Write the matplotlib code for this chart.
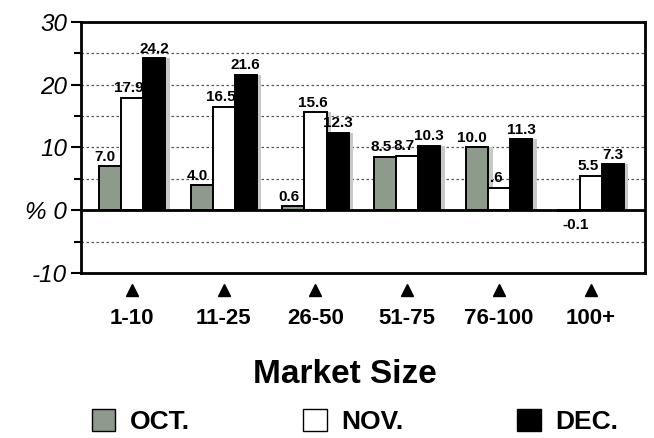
import matplotlib.pyplot as plt
import numpy as np
from matplotlib.patches import Patch
from matplotlib.transforms import blended_transform_factory

sizes = ["1-10", "11-25", "26-50", "51-75", "76-100", "100+"]
oct_vals = [7.0, 4.0, 0.6, 8.5, 10.0, -0.1]
nov_vals = [17.9, 16.5, 15.6, 8.7, 3.6, 5.5]
dec_vals = [24.2, 21.6, 12.3, 10.3, 11.3, 7.3]
oct_txt = ["7.0", "4.0", "0.6", "8.5", "10.0", "-0.1"]
nov_txt = ["17.9", "16.5", "15.6", "8.7", ".6", "5.5"]
dec_txt = ["24.2", "21.6", "12.3", "10.3", "11.3", "7.3"]

plt.rcParams['font.family'] = ['Liberation Sans', 'DejaVu Sans']

fig = plt.figure(figsize=(6.54, 4.38), dpi=100)
ax = fig.add_axes([0.124, 0.377, 0.862, 0.573])

x = np.arange(len(sizes))
w = 0.24
series = [(oct_vals, oct_txt, "#8e9a8c", "OCT."),
          (nov_vals, nov_txt, "white", "NOV."),
          (dec_vals, dec_txt, "black", "DEC.")]
label_shift = [-0.05, -0.03, 0.0]

for k, (vals, txt, col, name) in enumerate(series):
    pos = x + (k - 1) * w
    # drop shadow
    ax.bar(pos + 0.05, vals, w, color="#c8c8c8", zorder=2, linewidth=0)
    ax.bar(pos, vals, w, color=col, edgecolor="black", linewidth=1.4, zorder=3)
    for p, v, t in zip(pos, vals, txt):
        if v >= 0:
            ax.text(p + label_shift[k], v + 0.4, t, ha="center", va="bottom",
                    fontsize=11, fontweight="bold", zorder=5)
        else:
            ax.text(p + 0.08, v - 1.2, t, ha="center", va="top", fontsize=11,
                    fontweight="bold", zorder=5)

ax.axhline(0, color="black", linewidth=2, zorder=4)
for gy in [25, 20, 15, 10, 5, -5]:
    ax.axhline(gy, color="#555555", linewidth=0.9, linestyle=(0, (2, 2)), zorder=1)

ax.set_xlim(-0.555, 5.59)
ax.set_ylim(-10, 30)
ax.set_yticks([30, 20, 10, 0, -10])
ax.set_yticklabels(["30", "20", "10", "% 0", "-10"], fontsize=17.5, style="italic")
ax.set_yticks([25, 15, 5, -5], minor=True)
ax.tick_params(axis="y", which="both", direction="out", length=7, width=1.5, pad=3)
ax.tick_params(axis="y", which="minor", length=5)

ax.set_xticks(x)
ax.set_xticklabels(sizes, fontsize=16, fontweight="bold")
ax.tick_params(axis="x", length=0, pad=25)

trans = blended_transform_factory(ax.transData, ax.transAxes)
ax.plot(x, [-0.07] * len(x), transform=trans, marker="^", markersize=9,
        color="black", linestyle="none", clip_on=False)

for s in ax.spines.values():
    s.set_linewidth(2)

fig.text(0.528, 0.144, "Market Size", ha="center", va="center", fontsize=24,
         fontweight="bold")

handles = [Patch(facecolor=c, edgecolor="black", label=n) for _, _, c, n in series]
fig.legend(handles=handles, loc="center", bbox_to_anchor=(0.543, 0.037), ncol=3,
           frameon=False, handlelength=0.9, handleheight=0.9, handletextpad=0.55,
           columnspacing=4.3, borderpad=0, prop={"size": 19, "weight": "bold"})

fig.savefig("out.png", dpi=100)
